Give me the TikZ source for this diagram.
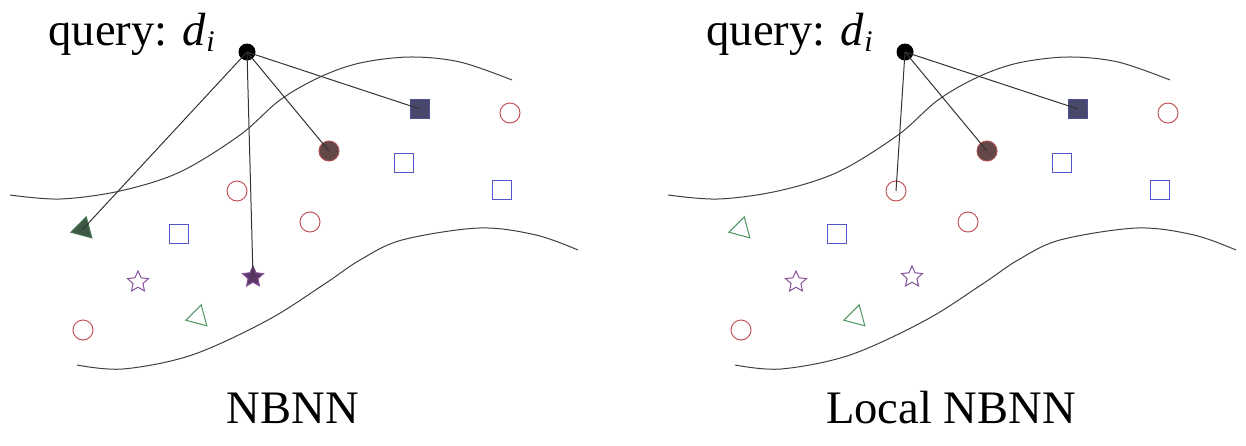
\documentclass[tikz,border=0pt]{standalone}
\usepackage{fontspec}
\setmainfont{Liberation Serif}
\usepackage{tikz}
\usetikzlibrary{
  shapes.geometric,
  chains,
  scopes
}

\definecolor{ptred}{RGB}{195,85,90}
\definecolor{ptblue}{RGB}{85,85,205}
\definecolor{ptgreen}{RGB}{75,150,95}
\definecolor{ptpurple}{RGB}{135,80,155}

\newcommand{\qlabel}{query: \textit{d}\raisebox{-3pt}{\fontsize{15}{15}\selectfont\itshape i}}

\begin{document}
\begin{tikzpicture}[
      x=0.5pt, y=-0.5pt,
      every node/.style={inner sep=0pt},
      caption/.style={
         anchor=base,
         font=\fontsize{23.3}{28}\selectfont
      },
      query/.style={
         circle,
         fill=black,
         minimum size=8.5pt
      },
      redpt/.style={
         circle,
         minimum size=10pt,
         line width=0.5pt,
         draw=ptred
      },
      bluept/.style={
         rectangle,
         minimum size=9.5pt,
         line width=0.5pt,
         draw=ptblue
      },
      greenpt/.style={
         regular polygon, regular polygon sides=3,
         rotate=-15,
         minimum size=12.5pt,
         line width=0.5pt,
         draw=ptgreen
      },
      purplept/.style={
         star, star points=5, star point ratio=2.1,
         minimum size=11pt,
         line width=0.5pt,
         draw=ptpurple
      },
      hit red/.style={redpt, fill={rgb,255:red,100;green,72;blue,72}, draw={rgb,255:red,170;green,80;blue,80}},
      hit blue/.style={bluept, fill={rgb,255:red,72;green,72;blue,108}, draw={rgb,255:red,80;green,80;blue,150}},
      hit green/.style={greenpt, fill={rgb,255:red,62;green,88;blue,68}, draw={rgb,255:red,70;green,120;blue,80}},
      hit purple/.style={purplept, fill={rgb,255:red,92;green,58;blue,104}},
      border/.style={draw=black!75, line width=0.5pt},
      ray/.style={
         draw=black!80, line width=0.5pt,
         to path={(\tikztostart.center) -- (\tikztotarget.center)}
      },
    ]
    \useasboundingbox (0,0) rectangle (1246,445);

    % NBNN
    \node (lq) [caption, anchor=base west] at (48,45.5) {\qlabel};
    \draw[border] plot[smooth, tension=0.55] coordinates {(10,195) (60,199) (120,191) (180,172) (240,135) (280,100) (320,77) (360,63) (410,57) (460,62) (512,80)};
    \draw[border] plot[smooth, tension=0.55] coordinates {(77,365) (123,369) (192,355) (268,320) (326,283) (360,260) (402,240) (479,228) (536,235) (578,250)};
    \node (l0) [query] at (247,52) {};
    \node (l1) [hit blue] at (420,109) {};
    \node (l2) [redpt] at (510,113) {};
    \node (l3) [hit red] at (329,151) {};
    \node (l4) [bluept] at (404,163) {};
    \node (l5) [bluept] at (502,190) {};
    \node (l6) [redpt] at (237,191) {};
    \node (l7) [redpt] at (310,222) {};
    \node (l8) [hit green] at (83,229) {};
    \node (l9) [bluept] at (179,234) {};
    \node (l10) [purplept] at (138,282) {};
    \node (l11) [hit purple] at (253,277) {};
    \node (l12) [greenpt] at (198,317) {};
    \node (l13) [redpt] at (83,330) {};
    \node (lname) [caption] at (293,423) {NBNN};
  { [start chain]
       \chainin (l0);
       \chainin (l8)    [join=by ray];
  }
  { [start chain]
       \chainin (l0);
       \chainin (l11)    [join=by ray];
  }
  { [start chain]
       \chainin (l0);
       \chainin (l3)    [join=by ray];
  }
  { [start chain]
       \chainin (l0);
       \chainin (l1)    [join=by ray];
  }

    % Local NBNN
    \begin{scope}[shift={(658,0)}]
    \node (rq) [caption, anchor=base west] at (48,45.5) {\qlabel};
    \draw[border] plot[smooth, tension=0.55] coordinates {(10,195) (60,199) (120,191) (180,172) (240,135) (280,100) (320,77) (360,63) (410,57) (460,62) (512,80)};
    \draw[border] plot[smooth, tension=0.55] coordinates {(77,365) (123,369) (192,355) (268,320) (326,283) (360,260) (402,240) (479,228) (536,235) (578,250)};
    \node (r0) [query] at (247,52) {};
    \node (r1) [hit blue] at (420,109) {};
    \node (r2) [redpt] at (510,113) {};
    \node (r3) [hit red] at (329,151) {};
    \node (r4) [bluept] at (404,163) {};
    \node (r5) [bluept] at (502,190) {};
    \node (r6) [redpt] at (238,191) {};
    \node (r7) [redpt] at (310,222) {};
    \node (r8) [greenpt] at (83,229) {};
    \node (r9) [bluept] at (179,234) {};
    \node (r10) [purplept] at (138,282) {};
    \node (r11) [purplept] at (254,277) {};
    \node (r12) [greenpt] at (198,317) {};
    \node (r13) [redpt] at (83,330) {};
    \node (rname) [caption] at (293,423) {Local NBNN};
  { [start chain]
       \chainin (r0);
       \chainin (r6)    [join=by ray];
  }
  { [start chain]
       \chainin (r0);
       \chainin (r3)    [join=by ray];
  }
  { [start chain]
       \chainin (r0);
       \chainin (r1)    [join=by ray];
  }
    \end{scope}
\end{tikzpicture}
\end{document}
